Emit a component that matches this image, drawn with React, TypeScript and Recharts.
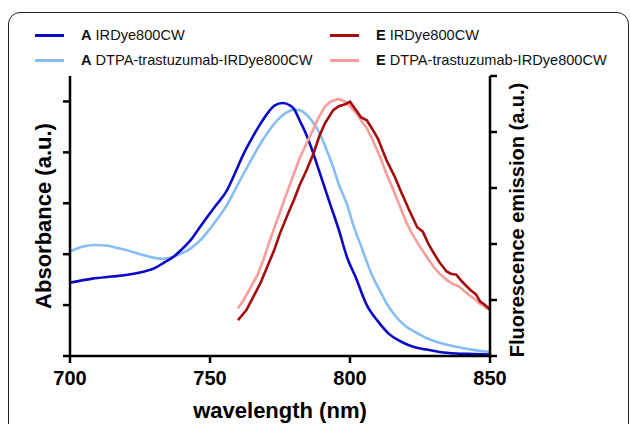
import React from 'react';
import { LineChart, Line, XAxis, YAxis, Label } from 'recharts';

// Absorbance (left axis)
const absDyeNm = [700, 708, 715, 720, 725, 730, 734, 737, 740, 743, 746, 749, 752, 756, 759, 762, 765, 768, 771, 773, 776, 778.6, 780, 782, 784, 786, 789, 791, 793, 796, 799, 802, 806, 810, 814, 818, 822, 827, 832, 838, 844, 850];
const absDyeVal = [1.44, 1.52, 1.56, 1.59, 1.64, 1.72, 1.85, 1.95, 2.1, 2.27, 2.5, 2.73, 2.95, 3.25, 3.6, 3.97, 4.28, 4.56, 4.8, 4.92, 4.97, 4.92, 4.85, 4.63, 4.4, 4.12, 3.63, 3.3, 2.97, 2.48, 1.93, 1.55, 1.0, 0.68, 0.43, 0.29, 0.19, 0.13, 0.08, 0.05, 0.04, 0.03];

const absConjNm = [700, 704, 709, 713, 717, 720, 725, 730, 733, 737, 740, 743, 747, 750, 753, 756, 759, 762, 765, 768, 771, 774, 777, 780, 782, 785, 787, 789, 792, 794, 796, 799, 801, 804, 806, 808, 811, 813, 816, 820, 824, 827, 832, 838, 844, 850];
const absConjVal = [2.05, 2.14, 2.18, 2.17, 2.12, 2.08, 2.0, 1.93, 1.91, 1.95, 2.02, 2.11, 2.3, 2.5, 2.72, 2.96, 3.27, 3.58, 3.88, 4.17, 4.42, 4.63, 4.77, 4.84, 4.83, 4.71, 4.57, 4.39, 4.0, 3.71, 3.37, 2.97, 2.6, 2.15, 1.85, 1.57, 1.25, 1.04, 0.8, 0.58, 0.45, 0.36, 0.26, 0.18, 0.12, 0.08];

// Fluorescence emission (right axis)
const emDyeNm = [760, 763, 765.5, 768, 770, 773, 775, 778, 780, 782, 784.5, 787, 789, 791, 794, 796, 798, 800, 802, 804, 806, 808, 810, 813, 816, 818, 821, 824, 826, 828, 830, 832, 834.5, 836, 838, 840, 843, 845, 846.5, 848, 850];
const emDyeVal = [0.64, 0.82, 1.06, 1.3, 1.54, 1.9, 2.19, 2.56, 2.79, 3.05, 3.32, 3.62, 3.92, 4.15, 4.39, 4.46, 4.49, 4.54, 4.4, 4.26, 4.21, 4.05, 3.88, 3.5, 3.2, 2.96, 2.62, 2.3, 2.22, 2.0, 1.83, 1.67, 1.51, 1.47, 1.45, 1.33, 1.18, 1.1, 0.97, 0.92, 0.83];

const emConjNm = [760, 762, 764, 767, 769, 771.5, 774, 777, 780, 782, 784.5, 787, 789, 791, 793, 795.8, 798, 800, 802, 804, 806, 808, 810.7, 813, 815.5, 818, 820, 822, 825, 827, 830, 832, 834.5, 837, 839, 841, 843, 845, 846.5, 848, 850];
const emConjVal = [0.85, 1.0, 1.18, 1.45, 1.71, 2.08, 2.43, 2.85, 3.26, 3.53, 3.8, 4.06, 4.28, 4.45, 4.54, 4.59, 4.55, 4.46, 4.35, 4.2, 4.07, 3.87, 3.56, 3.26, 2.96, 2.65, 2.4, 2.2, 1.95, 1.8, 1.58, 1.47, 1.36, 1.28, 1.24, 1.15, 1.07, 1.0, 0.93, 0.88, 0.82];

const xTicks = [700, 750, 800, 850];
const leftTicks = [0, 1, 2, 3, 4, 5];
const rightTicks = [0, 1, 2, 3, 4, 5];

const seriesPrefix = ['A', 'A', 'E', 'E'];
const seriesNames = ['IRDye800CW', 'DTPA-trastuzumab-IRDye800CW', 'IRDye800CW', 'DTPA-trastuzumab-IRDye800CW'];
const seriesColors = ['#0a0ac8', '#86bdf7', '#a50d0d', '#f99c9c'];
const seriesCurve = ['monotone', 'monotone', 'linear', 'linear'];

const toData = (nm: number[], v: number[]) => nm.map((x, i) => ({ x, v: v[i] }));

const FONT = '"Liberation Sans", Arial, Helvetica, sans-serif';

const legendPos = [
  { left: 35, top: 26 },
  { left: 35, top: 51 },
  { left: 330, top: 26 },
  { left: 330, top: 51 },
];

const blank = () => '';

export default function App() {
  const series = [
    { data: toData(absDyeNm, absDyeVal), axis: 'left' },
    { data: toData(absConjNm, absConjVal), axis: 'left' },
    { data: toData(emDyeNm, emDyeVal), axis: 'right' },
    { data: toData(emConjNm, emConjVal), axis: 'right' },
  ];
  const drawOrder = [1, 0, 3, 2];
  return (
    <div style={{ position: 'absolute', left: 0, top: 0, width: 630, height: 424, overflow: 'hidden', background: '#fff', fontFamily: FONT }}>
      <div style={{ position: 'absolute', left: 8, top: 12, width: 621, height: 440, boxSizing: 'border-box', border: '1.6px solid #222', borderRadius: 12 }} />
      {seriesNames.map((name, i) => (
        <div key={i} style={{ position: 'absolute', left: legendPos[i].left, top: legendPos[i].top, height: 18, display: 'flex', alignItems: 'center', fontSize: 14.6, color: '#111', whiteSpace: 'nowrap' }}>
          <span style={{ display: 'inline-block', width: 29, height: 3, background: seriesColors[i], marginRight: 17 }} />
          <span style={{ fontWeight: 'bold', marginRight: 4 }}>{seriesPrefix[i]}</span>
          <span>{name}</span>
        </div>
      ))}
      <div style={{ position: 'absolute', left: 0, top: 0 }}>
        <LineChart width={630} height={424} margin={{ top: 76, right: 0, bottom: 0, left: 0 }}>
          <XAxis
            dataKey="x"
            type="number"
            domain={[700, 850]}
            ticks={xTicks}
            allowDataOverflow
            height={68}
            axisLine={{ stroke: '#000', strokeWidth: 2.5 }}
            tickLine={{ stroke: '#000', strokeWidth: 2.5 }}
            tickSize={7}
            tickMargin={8}
            tick={{ fill: '#000', fontSize: 20, fontWeight: 'bold', fontFamily: FONT }}
          >
            <Label
              content={() => (
                <text x={280} y={418} textAnchor="middle" fontSize={22} fontWeight="bold" fontFamily={FONT} fill="#000">
                  wavelength (nm)
                </text>
              )}
            />
          </XAxis>
          <YAxis
            yAxisId="left"
            orientation="left"
            width={70}
            domain={[0, 5.5]}
            ticks={leftTicks}
            allowDataOverflow
            axisLine={{ stroke: '#000', strokeWidth: 2.5 }}
            tickLine={{ stroke: '#000', strokeWidth: 2.5 }}
            tickSize={7}
            tickFormatter={blank}
          >
            <Label
              content={() => (
                <text x={51} y={216} transform="rotate(-90 51 216)" textAnchor="middle" fontSize={22} fontWeight="bold" fontFamily={FONT} fill="#000">
                  Absorbance (a.u.)
                </text>
              )}
            />
          </YAxis>
          <YAxis
            yAxisId="right"
            orientation="right"
            width={140}
            domain={[0, 5]}
            ticks={rightTicks}
            allowDataOverflow
            axisLine={{ stroke: '#000', strokeWidth: 2.5 }}
            tickLine={{ stroke: '#000', strokeWidth: 2.5 }}
            tickSize={7}
            tickFormatter={blank}
          >
            <Label
              content={() => (
                <text x={524} y={220} transform="rotate(-90 524 220)" textAnchor="middle" fontSize={20} fontWeight="bold" fontFamily={FONT} fill="#000">
                  Fluorescence emission (a.u.)
                </text>
              )}
            />
          </YAxis>
          {drawOrder.map((i) => (
            <Line
              key={i}
              data={series[i].data}
              dataKey="v"
              yAxisId={series[i].axis}
              type={seriesCurve[i] as any}
              stroke={seriesColors[i]}
              strokeWidth={2.6}
              dot={false}
              isAnimationActive={false}
            />
          ))}
        </LineChart>
      </div>
    </div>
  );
}
